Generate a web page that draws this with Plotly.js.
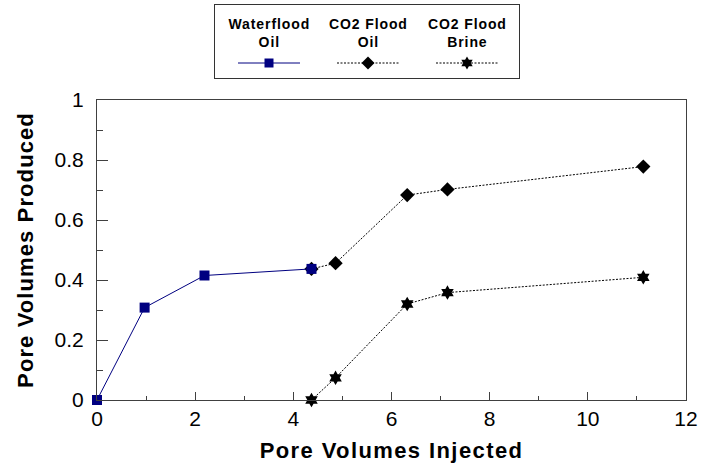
<!DOCTYPE html>
<html>
<head>
<meta charset="utf-8">
<script src="https://cdn.plot.ly/plotly-3.0.1.min.js"></script>
<style>
html,body{margin:0;padding:0;background:#fff;}
#chart{width:703px;height:463px;}
#chart .xtitle{letter-spacing:1.4px;}
#chart .ytitle{letter-spacing:1.1px;}
#chart .annotation-text{letter-spacing:0.9px;}
</style>
</head>
<body>
<div id="chart"></div>
<script>
// Data
const waterX = [0, 0.97, 2.19, 4.37];
const waterY = [0, 0.308, 0.415, 0.437];
const co2OilX = [4.37, 4.86, 6.32, 7.14, 11.13];
const co2OilY = [0.437, 0.456, 0.683, 0.702, 0.778];
const brineX = [4.37, 4.86, 6.32, 7.14, 11.13];
const brineY = [0, 0.074, 0.32, 0.358, 0.409];
const seriesNames = ["Waterflood<br>Oil", "CO2 Flood<br>Oil", "CO2 Flood<br>Brine"];
const xTicks = [0, 2, 4, 6, 8, 10, 12];
const yTicks = [0, 0.2, 0.4, 0.6, 0.8, 1];
const yTickText = ["0", "0.2", "0.4", "0.6", "0.8", "1"];

const FONT = "Liberation Sans, Arial, Helvetica, sans-serif";
const AX = "#404040";
const dotted = "2px,1.5px";

const styles = [
  {line: {color: "#000080", width: 1}, marker: {symbol: "square", size: 10, color: "#000080"}},
  {line: {color: "#000000", width: 1, dash: dotted}, marker: {symbol: "diamond", size: 11, color: "#000000"}},
  {line: {color: "#000000", width: 1, dash: dotted}, marker: {symbol: "hexagram", size: 11, color: "#000000"}}
];

const traces = [
  Object.assign({x: co2OilX, y: co2OilY, mode: "lines+markers", name: "CO2 Flood Oil", showlegend: false, cliponaxis: false}, styles[1]),
  Object.assign({x: brineX, y: brineY, mode: "lines+markers", name: "CO2 Flood Brine", showlegend: false, cliponaxis: false}, styles[2]),
  Object.assign({x: waterX, y: waterY, mode: "lines+markers", name: "Waterflood Oil", showlegend: false, cliponaxis: false}, styles[0])
];

// Custom legend (text above symbol), drawn in a pixel-like helper axis
const legCols = [269, 368, 467];
const legHalf = 31;
const legSymY = 63;
styles.forEach((s, i) => {
  traces.push({
    x: [legCols[i] - legHalf, legCols[i], legCols[i] + legHalf],
    y: [legSymY, legSymY, legSymY],
    xaxis: "x2", yaxis: "y2",
    mode: "lines",
    line: s.line, hoverinfo: "skip", showlegend: false
  });
  traces.push({
    x: [legCols[i]], y: [legSymY],
    xaxis: "x2", yaxis: "y2",
    mode: "markers",
    marker: Object.assign({}, s.marker, {size: s.marker.size - 1}), hoverinfo: "skip", showlegend: false
  });
});

const annotations = seriesNames.map((n, i) => ({
  x: legCols[i], y: 33, xref: "x2", yref: "y2",
  text: "<b>" + n + "</b>", showarrow: false,
  font: {family: FONT, size: 14, color: "#000"},
  align: "center", xanchor: "center", yanchor: "middle"
}));

const layout = {
  width: 703, height: 463,
  margin: {l: 97, r: 17, t: 0, b: 63},
  paper_bgcolor: "#fff", plot_bgcolor: "#fff",
  showlegend: false,
  font: {family: FONT, color: "#000"},
  xaxis: {
    range: [0, 12], domain: [0, 1],
    tickvals: xTicks, ticktext: xTicks.map(String),
    ticks: "inside", ticklen: 8, tickwidth: 1, tickcolor: AX,
    minor: {dtick: 1, ticks: "inside", ticklen: 4, tickcolor: AX, tickwidth: 1, showgrid: false},
    showline: true, linecolor: AX, linewidth: 1, mirror: true,
    showgrid: false, zeroline: false,
    tickfont: {family: FONT, size: 21, color: "#000"},
    title: {text: "<b>Pore Volumes Injected</b>", font: {family: FONT, size: 22, color: "#000"}, standoff: 13},
    fixedrange: true
  },
  yaxis: {
    range: [0, 1], domain: [0, 0.75],
    tickvals: yTicks, ticktext: yTickText,
    ticks: "inside", ticklen: 11, tickwidth: 1, tickcolor: AX,
    minor: {dtick: 0.1, ticks: "inside", ticklen: 6, tickcolor: AX, tickwidth: 1, showgrid: false},
    showline: true, linecolor: AX, linewidth: 1, mirror: true,
    showgrid: false, zeroline: false,
    tickfont: {family: FONT, size: 21, color: "#000"},
    ticklabelstandoff: 8,
    title: {text: "<b>Pore Volumes Produced</b>", font: {family: FONT, size: 22, color: "#000"}, standoff: 14},
    fixedrange: true
  },
  xaxis2: {
    domain: [(215 - 97) / 589, (519 - 97) / 589], range: [215, 519], anchor: "y2",
    showline: true, mirror: true, linecolor: "#333", linewidth: 1,
    showticklabels: false, ticks: "", showgrid: false, zeroline: false, fixedrange: true
  },
  yaxis2: {
    domain: [(400 - 78) / 400, (400 - 5) / 400], range: [78, 5], anchor: "x2",
    showline: true, mirror: true, linecolor: "#333", linewidth: 1,
    showticklabels: false, ticks: "", showgrid: false, zeroline: false, fixedrange: true
  },
  annotations: annotations
};

Plotly.newPlot("chart", traces, layout, {displayModeBar: false, staticPlot: true});
</script>
</body>
</html>
